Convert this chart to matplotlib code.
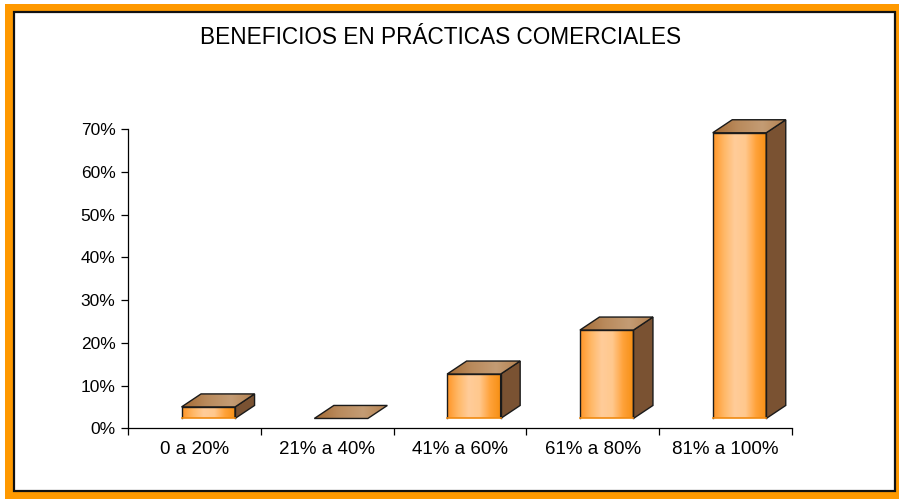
import numpy as np
import matplotlib.pyplot as plt
from matplotlib.patches import Rectangle, Polygon
from matplotlib.colors import LinearSegmentedColormap

# datos
categorias = ['0 a 20%', '21% a 40%', '41% a 60%', '61% a 80%', '81% a 100%']
valores = [2.7, 0.0, 10.4, 20.7, 66.9]
ticks_y = [0, 10, 20, 30, 40, 50, 60, 70]
etiquetas_y = ['0%', '10%', '20%', '30%', '40%', '50%', '60%', '70%']
titulo = 'BENEFICIOS EN PRÁCTICAS COMERCIALES'

plt.rcParams['font.family'] = ['Liberation Sans', 'DejaVu Sans']

fig = plt.figure(figsize=(8.99, 4.99), dpi=100)
fig.patch.set_facecolor('white')

# marco naranja con borde negro
W, H = 899, 499
fig.patches.append(Rectangle((5 / W, 0), 894 / W, 495 / H, transform=fig.transFigure,
                             facecolor='#FF9900', edgecolor='none', zorder=-3))
fig.patches.append(Rectangle((14 / W, 8 / H), 881 / W, 479 / H, transform=fig.transFigure,
                             facecolor='white', edgecolor='#111111', linewidth=1.6, zorder=-2))

ax = fig.add_axes([128 / W, (H - 428.3) / H, 664 / W, 320.3 / H])
ax.set_facecolor('none')

# estilo del cubo 3D
base = 2.3       # elevacion del frente de la barra
ancho = 0.403
izq = -0.097
dx = 0.147
dy = 3.05

cmap_frente = LinearSegmentedColormap.from_list(
    'frente', ['#FF9526', '#FFB765', '#FFCC99', '#FFC88E', '#FFA23A', '#F58E12'])
cmap_techo = LinearSegmentedColormap.from_list(
    'techo', ['#A36A34', '#B98A5C', '#C49C74', '#B4804E'])
grad = np.linspace(0, 1, 256).reshape(1, -1)

for i, v in enumerate(valores):
    x0 = i + izq
    x1 = x0 + ancho
    y0 = base
    y1 = base + v

    if v > 0:
        # cara frontal con degradado
        ax.imshow(grad, cmap=cmap_frente, extent=[x0, x1, y0, y1], aspect='auto',
                  interpolation='bilinear', zorder=2)
        # cara lateral
        lado = Polygon([(x1, y0), (x1 + dx, y0 + dy), (x1 + dx, y1 + dy), (x1, y1)],
                       closed=True, facecolor='#7A5232', edgecolor='#1a1a1a', linewidth=1.0, zorder=2)
        ax.add_patch(lado)
        ax.plot([x0, x0, x1, x1], [y0, y1, y1, y0], color='#1a1a1a', linewidth=1.0, zorder=3)
        ax.plot([x0, x1], [y0, y0], color='#F08A10', linewidth=1.2, zorder=3)

    # cara superior
    techo = Polygon([(x0, y1), (x0 + dx, y1 + dy), (x1 + dx, y1 + dy), (x1, y1)],
                    closed=True, facecolor='none', edgecolor='#1a1a1a', linewidth=1.0, zorder=4)
    ax.add_patch(techo)
    im = ax.imshow(grad, cmap=cmap_techo, extent=[x0, x1 + dx, y1, y1 + dy], aspect='auto',
                   interpolation='bilinear', zorder=2)
    im.set_clip_path(techo)

ax.set_xlim(-0.5, len(categorias) - 0.5)
ax.set_ylim(0, 75)

ax.spines['top'].set_visible(False)
ax.spines['right'].set_visible(False)
ax.spines['left'].set_bounds(0, 70)
for s in ['left', 'bottom']:
    ax.spines[s].set_linewidth(0.9)
    ax.spines[s].set_color('black')

ax.set_yticks(ticks_y)
ax.set_yticklabels(etiquetas_y, fontsize=12.5)
ax.set_xticks(np.arange(len(categorias) + 1) - 0.5, minor=True)
ax.set_xticks(np.arange(len(categorias)))
ax.set_xticklabels(categorias, fontsize=13.5)
ax.tick_params(axis='x', which='major', length=0, pad=9)
ax.tick_params(axis='x', which='minor', length=5, width=0.9, direction='out')
ax.tick_params(axis='y', length=5, width=0.9, direction='out', pad=4)

fig.text(441 / W, 1 - 37 / H, titulo, ha='center', va='center', fontsize=16.3)

fig.savefig('out.png', dpi=100)
